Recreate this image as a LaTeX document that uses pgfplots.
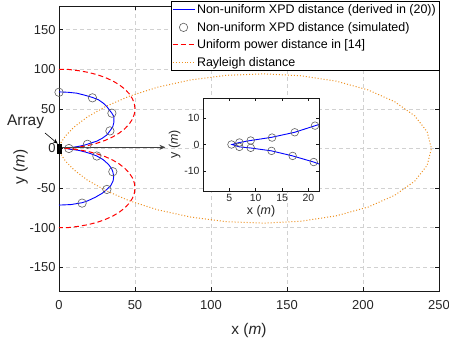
\documentclass[border=0pt]{standalone}
\usepackage{pgfplots}
\pgfplotsset{compat=1.18}
\usepackage{fontspec}
\setmainfont{Liberation Sans}
\usetikzlibrary{arrows.meta}
\definecolor{ora}{RGB}{237,145,33}
\definecolor{circ}{RGB}{95,95,95}
\begin{document}
\begin{tikzpicture}
\begin{axis}[
 name=main, scale only axis, width=380bp, height=285bp,
 xmin=0, xmax=250, ymin=-180, ymax=180,
 xtick={0,50,...,250}, ytick={-150,-100,...,150},
 grid=major, major grid style={dash pattern=on 4bp off 3bp, black!18, line width=0.6bp},
 tick align=inside, major tick length=4bp,
 axis line style={black!90, line width=0.6bp},
 tick style={black!90, line width=0.6bp},
 ticklabel style={font=\fontsize{13}{14}\selectfont, text=black!85},
 xticklabel style={yshift=-6bp},
 /pgf/number format/assume math mode=true,
 xlabel={x (\textit{m})}, ylabel={y (\textit{m})},
 label style={font=\fontsize{15.5}{17}\selectfont, text=black!85},
 xlabel style={yshift=-7bp},
 ylabel style={at={(ticklabel cs:0.436)}, yshift=-5bp},
 clip=false,
 legend style={at={(1,1.016)}, anchor=north east,
   font=\fontsize{12.5}{13.5}\selectfont, inner sep=1bp, row sep=3bp, fill=white},
 legend cell align=left,
 legend image code/.code={\draw[mark repeat=2,mark phase=2] plot coordinates {(0bp,0bp)(11bp,0bp)(22bp,0bp)};},
]
\coordinate (O) at (rel axis cs:0,0);
\addplot[blue, line width=0.9bp] coordinates {
(0,71.5)(6,71)(11.7,69.9)(17,67.3)(22,64.5)(26,61.5)(29,57.5)(31.5,52.9)(33,49)(34.8,44.6)(36.1,40.3)(36.1,33)(35.4,27.6)(33.5,22.2)(31.5,17.1)(28.5,13)(24.9,9.3)(21.3,7.1)(17.4,4.6)(13,2.7)(9,1.5)(6.9,0.75)(5.5,0)
(6.9,-0.9)(9,-1.3)(13,-2.4)(17,-4.3)(21,-6.6)(24.9,-9.5)(29,-14)(32.5,-20)(34.5,-25)(35.4,-29.3)(36,-35)(35.6,-41)(34,-47)(31.5,-51.7)(28.5,-56.5)(24,-61.5)(19,-66)(15.2,-68.5)(8,-70.8)(0,-71.5)};
\addlegendentry{Non-uniform XPD distance (derived in (20))}
\addplot[only marks, mark=o, mark size=4.2bp, circ, line width=0.6bp] coordinates {
(0,71)(22,64)(34.8,44.6)(33.5,22.2)(18.7,5.3)(6.5,0)(24.9,-9.5)(35.4,-29.3)(31.5,-51.7)(15.2,-69)};
\addlegendentry{Non-uniform XPD distance (simulated)}
\addplot[red, line width=1bp, dash pattern=on 5bp off 3bp] coordinates {
(0,100)(6.53,99.79)(12.94,98.30)(19.13,96.19)(25,93.30)(30.44,89.67)(35.36,85.36)(39.67,80.44)(43.30,75)(46.19,69.13)(48.30,62.94)(49.57,56.53)(50,50)(49.57,43.47)(48.30,37.06)(46.19,30.87)(43.30,25)(39.67,19.56)(35.36,14.64)(30.44,10.33)(25,6.70)(19.13,3.81)(12.94,1.70)(6.53,0.21)(0,0)
(6.53,-0.21)(12.94,-1.70)(19.13,-3.81)(25,-6.70)(30.44,-10.33)(35.36,-14.64)(39.67,-19.56)(43.30,-25)(46.19,-30.87)(48.30,-37.06)(49.57,-43.47)(50,-50)(49.57,-56.53)(48.30,-62.94)(46.19,-69.13)(43.30,-75)(39.67,-80.44)(35.36,-85.36)(30.44,-89.67)(25,-93.30)(19.13,-96.19)(12.94,-98.30)(6.53,-99.79)(0,-100)};
\addlegendentry{Uniform power distance in [14]}
\addplot[ora, line width=1bp, dotted] coordinates {
(0,0)(0.16,1.85)(1.28,7.28)(4.25,15.85)(9.80,26.93)(18.49,39.66)(30.63,53.04)(46.23,66.03)(65.07,77.55)(86.62,86.62)(110.13,92.42)(134.67,94.30)(159.13,91.88)(182.39,85.05)(203.29,73.99)(220.80,59.16)(234.00,41.26)(242.21,21.19)(245,0)
(242.21,-21.19)(234.00,-41.26)(220.80,-59.16)(203.29,-73.99)(182.39,-85.05)(159.13,-91.88)(134.67,-94.30)(110.13,-92.42)(86.62,-86.62)(65.07,-77.55)(46.23,-66.03)(30.63,-53.04)(18.49,-39.66)(9.80,-26.93)(4.25,-15.85)(1.28,-7.28)(0.16,-1.85)(0,0)};
\addlegendentry{Rayleigh distance}
\draw[-{Stealth[length=6bp,width=5bp]}, black!75, line width=0.6bp] (axis cs:2,1.5) -- (axis cs:70,1.5);
\fill[black] (axis cs:-1.1,-7) rectangle (axis cs:2,5.3);
\node[font=\fontsize{15.5}{17}\selectfont, text=black!85] at (axis cs:-22,33.5) {Array};
\draw[-{Stealth[length=5bp,width=4bp]}, black, line width=0.6bp] (axis cs:-9.2,19.6) -- (axis cs:-0.8,6);
\end{axis}
\begin{axis}[
 at={(144bp,100bp)}, anchor=south west, scale only axis, width=116bp, height=93bp,
 xmin=0, xmax=22, ymin=-17.5, ymax=17.5,
 xtick={5,10,15,20}, ytick={-10,0,10},
 axis background/.style={fill=white},
 tick align=inside, major tick length=3bp,
 axis line style={black!90, line width=0.6bp},
 tick style={black!90, line width=0.6bp},
 ticklabel style={font=\fontsize{10.5}{12}\selectfont, text=black!85},
 /pgf/number format/assume math mode=true,
 xlabel={x (\textit{m})}, ylabel={y (\textit{m})},
 label style={font=\fontsize{12.5}{14}\selectfont, text=black!85},
 xlabel style={yshift=3bp}, ylabel style={yshift=-3bp},
]
\addplot[blue, line width=0.9bp] coordinates {
(24.9,9.3)(21.3,7.1)(17.4,4.6)(13,2.7)(9,1.5)(6.9,0.75)(5.5,0)
(6.9,-0.9)(9,-1.3)(13,-2.4)(17,-4.3)(21,-6.6)(24.9,-9.5)};
\addplot[only marks, mark=o, mark size=3.8bp, circ, line width=0.6bp] coordinates {
(5.4,0)(6.9,0.75)(9.05,1.5)(13.1,2.6)(17.4,4.6)(21.25,7.1)(6.9,-0.9)(9.05,-1.25)(13,-2.4)(17,-4.3)(21,-6.6)};
\end{axis}
\pgfresetboundingbox
\path[use as bounding box] ([shift={(-59bp,-50bp)}]O) rectangle ([shift={(390bp,291bp)}]O);
\end{tikzpicture}
\end{document}
